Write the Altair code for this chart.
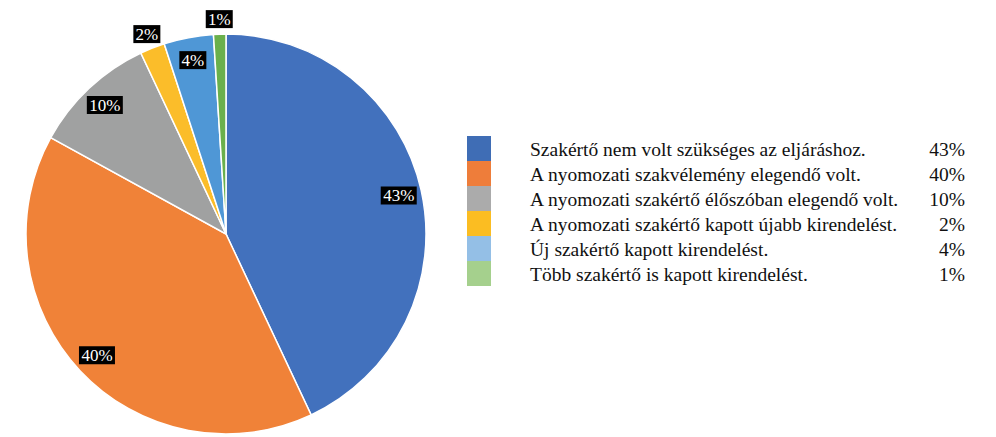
import altair as alt
import pandas as pd

categories = [
    "Szakértő nem volt szükséges az eljáráshoz.",
    "A nyomozati szakvélemény elegendő volt.",
    "A nyomozati szakértő élőszóban elegendő volt.",
    "A nyomozati szakértő kapott újabb kirendelést.",
    "Új szakértő kapott kirendelést.",
    "Több szakértő is kapott kirendelést.",
]
values = [43, 40, 10, 2, 4, 1]
pie_colors = ["#4271bd", "#f08238", "#a0a1a1", "#fbbd2a", "#4f97d6", "#6ab04c"]
legend_colors = ["#3f6db5", "#ee7d3a", "#ababab", "#fbbd22", "#94bfe6", "#a5d08d"]

df = pd.DataFrame({
    "cat": categories,
    "v": values,
    "order": list(range(len(values))),
    "lab": [f"{v}%" for v in values],
})

CX, CY, R = 218, 226, 200
FONT = "Liberation Serif"

base = alt.Chart(df)

pie = base.mark_arc(radius=R, stroke="white", strokeWidth=1.5).encode(
    theta=alt.Theta("v:Q", stack=True),
    order=alt.Order("order:Q"),
    color=alt.Color("cat:N", scale=alt.Scale(domain=categories, range=pie_colors), legend=None),
    x=alt.value(CX),
    y=alt.value(CY),
)

lab_base = base.transform_window(
    cum="sum(v)", sort=[alt.SortField("order")], frame=[None, 0]
).transform_joinaggregate(
    total="sum(v)"
).transform_calculate(
    mid="(datum.cum - datum.v/2) / datum.total * 2 * PI",
    lr="datum.v >= 3 ? 177 : 215",
).transform_calculate(
    lx=f"{CX} + datum.lr * sin(datum.mid)",
    ly=f"{CY} - datum.lr * cos(datum.mid)",
    w="9 * length(datum.lab) + 9",
).transform_calculate(
    bx1="datum.lx - datum.w/2",
    bx2="datum.lx + datum.w/2",
    by1="datum.ly - 9",
    by2="datum.ly + 9",
)

boxes = lab_base.mark_rect(color="black").encode(
    x=alt.X("bx1:Q", scale=None, axis=None),
    x2="bx2:Q",
    y=alt.Y("by1:Q", scale=None, axis=None),
    y2="by2:Q",
)

labels = lab_base.mark_text(color="white", font=FONT, fontSize=17, align="center", baseline="middle", dy=1).encode(
    x=alt.X("lx:Q", scale=None, axis=None),
    y=alt.Y("ly:Q", scale=None, axis=None),
    text="lab:N",
)

ly_scale = alt.Scale(domain=categories, range=[128, 278], paddingInner=0, paddingOuter=0)

leg_rect = base.mark_rect().encode(
    y=alt.Y("cat:N", sort=categories, scale=ly_scale, axis=None),
    x=alt.value(459),
    x2=alt.value(483),
    color=alt.Color("cat:N", scale=alt.Scale(domain=categories, range=legend_colors), legend=None),
)

leg_text = base.mark_text(align="left", baseline="middle", font=FONT, fontSize=19.5, color="#111111", dy=1).encode(
    y=alt.Y("cat:N", sort=categories, scale=ly_scale, axis=None),
    x=alt.value(522),
    text="cat:N",
)

leg_pct = base.mark_text(align="right", baseline="middle", font=FONT, fontSize=19.5, color="#111111", dy=1).encode(
    y=alt.Y("cat:N", sort=categories, scale=ly_scale, axis=None),
    x=alt.value(957),
    text="lab:N",
)

chart = alt.layer(pie, boxes, labels, leg_rect, leg_text, leg_pct).resolve_scale(
    x="independent", y="independent", color="independent"
).properties(
    width=980, height=421, padding=0, background="white"
).configure_view(stroke=None)

chart.save("out.html", embed_options={"renderer": "svg", "actions": False})
